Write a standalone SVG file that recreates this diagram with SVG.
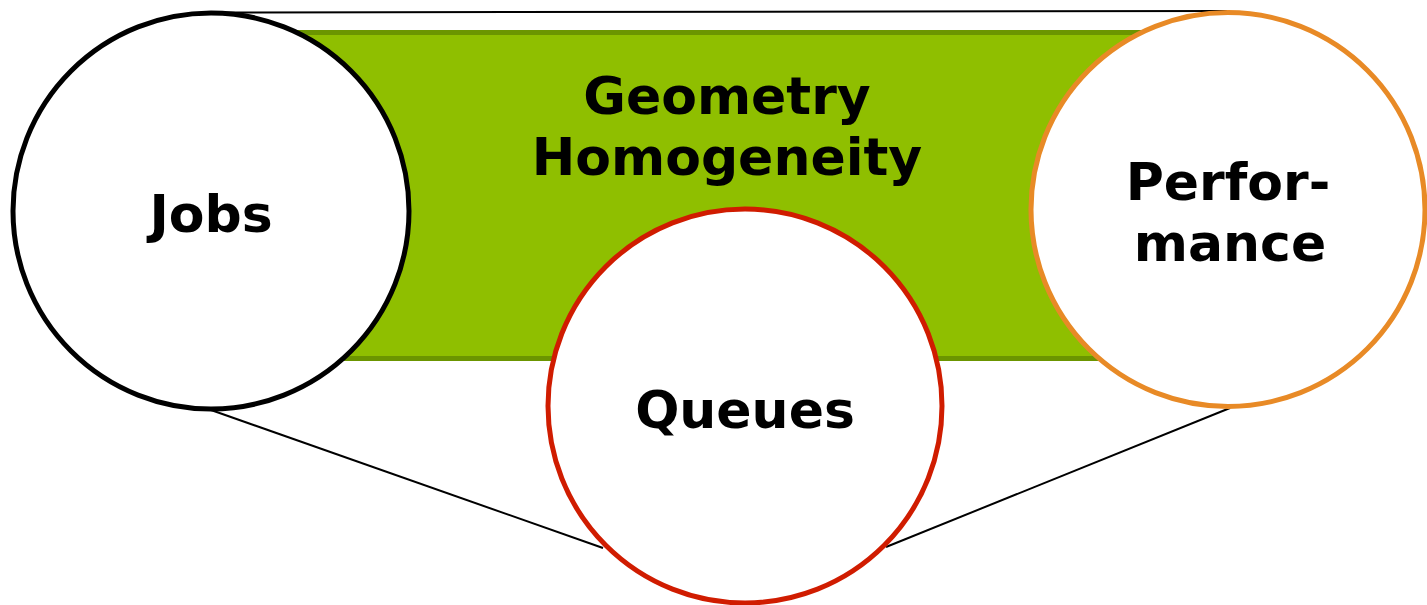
<svg xmlns="http://www.w3.org/2000/svg" width="1427" height="605" viewBox="0 0 1427 605">
<style>
.lbl{font-family:"DejaVu Sans","Verdana",sans-serif;font-weight:bold;font-size:52px;fill:#000;text-anchor:middle}
.node{fill:#fff;stroke-width:5}
.conn{stroke:#000;stroke-width:2;fill:none}
</style>
<rect width="1427" height="605" fill="#fff"/>
<g id="band">
<rect x="280" y="32.5" width="880" height="326" fill="#8fbf00" stroke="#6b9500" stroke-width="5"/>
<text class="lbl" x="727" y="114">Geometry</text>
<text class="lbl" x="727" y="175">Homogeneity</text>
</g>
<g id="connectors">
<line class="conn" x1="211" y1="12.5" x2="1228" y2="11"/>
<line class="conn" x1="211" y1="410" x2="603" y2="548"/>
<line class="conn" x1="1230" y1="408" x2="886" y2="547"/>
</g>
<g id="jobs">
<circle class="node" cx="211" cy="211" r="198" stroke="#000"/>
<text class="lbl" x="211" y="232">Jobs</text>
</g>
<g id="queues">
<circle class="node" cx="745" cy="406" r="197" stroke="#d01c00"/>
<text class="lbl" x="745" y="428">Queues</text>
</g>
<g id="performance">
<circle class="node" cx="1228" cy="209.5" r="197" stroke="#e88a26"/>
<text class="lbl" x="1228" y="200">Perfor-</text>
<text class="lbl" x="1230" y="261">mance</text>
</g>
</svg>
